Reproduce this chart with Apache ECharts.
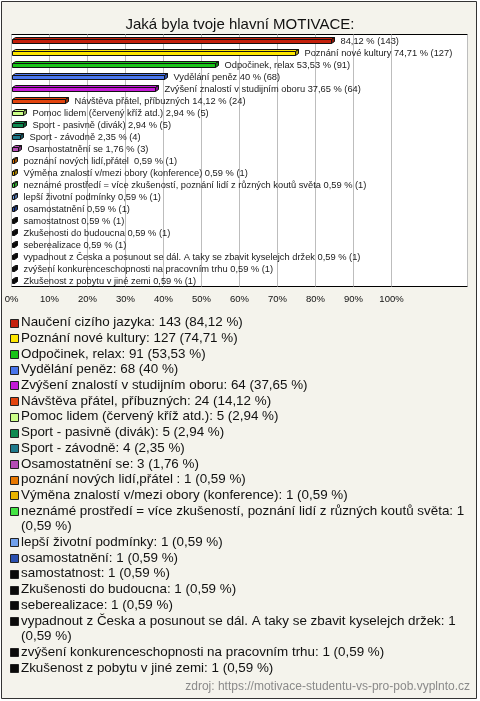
<!DOCTYPE html>
<html><head><meta charset="utf-8">
<script src="https://cdn.jsdelivr.net/npm/echarts/dist/echarts.min.js"></script>
<style>html,body{margin:0;padding:0;background:#fff}#c{width:480px;height:701px}</style>
</head><body><div id="c"></div>
<script>
const titleText = 'Jaká byla tvoje hlavní MOTIVACE:';
const sourceText = 'zdroj: https://motivace-studentu-vs-pro-pob.vyplnto.cz';
const categories = [
  'Naučení cizího jazyka',
  'Poznání nové kultury',
  'Odpočinek, relax',
  'Vydělání peněz',
  'Zvýšení znalostí v studijním oboru',
  'Návštěva přátel, příbuzných',
  'Pomoc lidem (červený kříž atd.)',
  'Sport - pasivně (divák)',
  'Sport - závodně',
  'Osamostatnění se',
  'poznání nových lidí,přátel ',
  'Výměna znalostí v/mezi obory (konference)',
  'neznámé prostředí = více zkušeností, poznání lidí z různých koutů světa',
  'lepší životní podmínky',
  'osamostatnění',
  'samostatnost',
  'Zkušenosti do budoucna',
  'seberealizace',
  'vypadnout z Česka a posunout se dál. A taky se zbavit kyselejch držek',
  'zvýšení konkurenceschopnosti na pracovním trhu',
  'Zkušenost z pobytu v jiné zemi'
];
const counts = [143, 127, 91, 68, 64, 24, 5, 5, 4, 3, 1, 1, 1, 1, 1, 1, 1, 1, 1, 1, 1];
const percents = [84.12, 74.71, 53.53, 40, 37.65, 14.12, 2.94, 2.94, 2.35, 1.76, 0.59, 0.59, 0.59, 0.59, 0.59, 0.59, 0.59, 0.59, 0.59, 0.59, 0.59];
const colors = ['#c4200c', '#fde600', '#18c418', '#4a76ec', '#c41ad6', '#e2440e', '#ccff88', '#0e8a50', '#1e7a8c', '#b44cb4', '#e87800', '#e8b400', '#44e444', '#70a0ec', '#2a50b0', '#0a0a0a', '#0a0a0a', '#0a0a0a', '#0a0a0a', '#0a0a0a', '#0a0a0a'];
// the first bar's label in the reference shows no name
const barLabelNames = categories.map((c, i) => i === 0 ? '' : c);
const xMax = 120, xLabelMax = 100, xStep = 10;

const FONT = '"Liberation Sans", Arial, sans-serif';
const fmtPct = v => String(v).replace('.', ',');

const chart = echarts.init(document.getElementById('c'), null, {renderer: 'canvas'});

// legend built from the data arrays
const LEG_FONT = '13.4px ' + FONT;
const LEG_TOP = 322.6, LEG_LH = 15.7, LEG_TEXT_X = 21, LEG_WRAP = 450;
const mctx = document.createElement('canvas').getContext('2d');
mctx.font = LEG_FONT;
function wrap(text, maxW) {
  const words = text.split(' ');
  const lines = []; let cur = '';
  for (const w of words) {
    const t = cur ? cur + ' ' + w : w;
    if (cur && mctx.measureText(t).width > maxW) { lines.push(cur); cur = w; } else cur = t;
  }
  lines.push(cur);
  return lines;
}
const legendEls = [];
let lineIdx = 0;
categories.forEach((name, i) => {
  const txt = name + ': ' + counts[i] + ' (' + fmtPct(percents[i]) + ' %)';
  const lines = wrap(txt, LEG_WRAP);
  const cy = LEG_TOP + LEG_LH * lineIdx;
  legendEls.push({
    type: 'rect', shape: {x: 10.5, y: Math.round(cy - 4) + 0.5, width: 8, height: 8},
    style: {fill: colors[i], stroke: '#222', lineWidth: 1}
  });
  legendEls.push({
    type: 'text', x: LEG_TEXT_X, y: cy - LEG_LH / 2,
    style: {text: lines.join('\n'), font: LEG_FONT, fill: '#111', lineHeight: LEG_LH, verticalAlign: 'top', align: 'left'}
  });
  lineIdx += lines.length;
});

function shade(hex, f) {
  const n = parseInt(hex.slice(1), 16);
  const r = Math.round(((n >> 16) & 255) * f), g = Math.round(((n >> 8) & 255) * f), b = Math.round((n & 255) * f);
  return 'rgb(' + r + ',' + g + ',' + b + ')';
}

const splitColors = [];
for (let v = 0; v <= xMax; v += xStep) splitColors.push(v > xLabelMax && v < xMax ? 'rgba(0,0,0,0)' : '#bdbdbd');

const option = {
  backgroundColor: '#fff',
  animation: false,
  title: {
    text: titleText, left: 'center', top: 12,
    textStyle: {fontSize: 15, fontWeight: 'normal', color: '#111', fontFamily: FONT}
  },
  grid: {
    left: 11.5, top: 34.5, width: 456, height: 252,
    show: true, backgroundColor: '#fff', borderColor: '#000', borderWidth: 1
  },
  xAxis: {
    type: 'value', min: 0, max: xMax, interval: xStep,
    axisLine: {show: false}, axisTick: {show: false},
    axisLabel: {
      margin: 8, fontSize: 9.5, color: '#111', fontFamily: FONT,
      formatter: v => v <= xLabelMax ? v + '%' : ''
    },
    splitLine: {show: true, lineStyle: {color: splitColors, width: 1}}
  },
  yAxis: {
    type: 'category', data: categories, inverse: true,
    axisLine: {show: false}, axisTick: {show: false}, axisLabel: {show: false}, splitLine: {show: false}
  },
  graphic: {
    elements: [
      {type: 'rect', z: -100, silent: true, shape: {x: 1.5, y: 1.5, width: 475, height: 697},
       style: {fill: '#f4f3ec', stroke: '#333', lineWidth: 1}},
      {type: 'text', x: 470, y: 687, style: {text: sourceText, font: '12px ' + FONT, fill: '#8a8a8a', align: 'right', verticalAlign: 'middle'}}
    ].concat(legendEls)
  },
  series: [{
    type: 'custom',
    clip: false,
    encode: {x: 0, y: 1},
    data: percents.map((p, i) => [p, i]),
    renderItem: function (params, api) {
      const i = params.dataIndex;
      const v = api.value(0);
      const idx = api.value(1);
      const s = api.coord([0, idx]);
      const e = api.coord([v, idx]);
      const c = Math.round(s[1]);
      const x0 = Math.round(s[0]) + 0.5, x1 = Math.round(e[0]) + 0.5;
      const dx = 3, dy = 2;
      const yt = c - 1.5, yb = c + 2.5;
      const col = colors[i];
      const stroke = '#111';
      const label = (barLabelNames[i] ? barLabelNames[i] + ' ' : '') + fmtPct(percents[i]) + ' % (' + counts[i] + ')';
      return {
        type: 'group',
        children: [
          {type: 'polygon', shape: {points: [[x0, yt], [x0 + dx, yt - dy], [x1 + dx, yt - dy], [x1, yt]]},
           style: {fill: shade(col, 1.0), stroke: stroke, lineWidth: 1}},
          {type: 'polygon', shape: {points: [[x1, yt], [x1 + dx, yt - dy], [x1 + dx, yb - dy], [x1, yb]]},
           style: {fill: shade(col, 0.7), stroke: stroke, lineWidth: 1}},
          {type: 'rect', shape: {x: x0, y: yt, width: x1 - x0, height: yb - yt},
           style: {fill: col, stroke: stroke, lineWidth: 1}},
          {type: 'text', x: x1 + 9, y: c,
           style: {text: label, font: '9.3px ' + FONT, fill: '#1a1a1a', verticalAlign: 'middle', align: 'left'}}
        ]
      };
    }
  }]
};
chart.setOption(option);
</script></body></html>
